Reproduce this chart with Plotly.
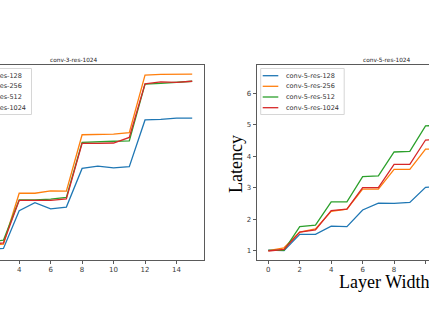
import plotly.graph_objects as go

W, H = 429, 333

layer_width = list(range(16))
series_names = ["128", "256", "512", "1024"]
colors = ["#1f77b4", "#ff7f0e", "#2ca02c", "#d62728"]

# conv-3-res-1024 (left panel)
conv3_res128 = [1.00, 1.02, 1.08, 1.09, 2.37, 2.64, 2.43, 2.49, 3.80, 3.88, 3.82, 3.86, 5.44, 5.46, 5.50, 5.50]
conv3_res256 = [1.00, 1.05, 1.20, 1.24, 2.96, 2.96, 3.04, 3.03, 4.94, 4.94, 4.96, 5.01, 6.96, 6.98, 6.99, 6.99]
conv3_res512 = [1.00, 1.05, 1.30, 1.37, 2.73, 2.73, 2.76, 2.82, 4.68, 4.71, 4.72, 4.73, 6.65, 6.68, 6.72, 6.75]
conv3_res1024 = [1.00, 1.03, 1.22, 1.28, 2.72, 2.72, 2.72, 2.77, 4.65, 4.65, 4.66, 4.85, 6.66, 6.73, 6.71, 6.75]

# conv-5-res-1024 (right panel)
conv5_res128 = [1.03, 1.01, 1.53, 1.53, 1.79, 1.77, 2.30, 2.52, 2.51, 2.54, 3.02, 3.04, 3.50, 3.55, 4.00, 4.05]
conv5_res256 = [1.01, 1.10, 1.60, 1.70, 2.26, 2.33, 2.96, 2.96, 3.59, 3.59, 4.23, 4.25, 4.90, 4.90, 5.55, 5.55]
conv5_res512 = [1.02, 1.02, 1.77, 1.82, 2.56, 2.56, 3.36, 3.38, 4.14, 4.16, 4.97, 4.98, 5.78, 5.80, 6.60, 6.62]
conv5_res1024 = [1.00, 1.05, 1.60, 1.67, 2.28, 2.33, 3.01, 3.01, 3.75, 3.75, 4.52, 4.53, 5.25, 5.26, 6.00, 6.00]

left_series = [conv3_res128, conv3_res256, conv3_res512, conv3_res1024]
right_series = [conv5_res128, conv5_res256, conv5_res512, conv5_res1024]

def px(x):
    return x / W

def py(y):
    return 1 - y / H

fig = go.Figure()
for name, ys, c in zip(series_names, left_series, colors):
    fig.add_trace(go.Scatter(x=layer_width, y=ys, mode="lines", name="conv-3-res-" + name,
                             line=dict(color=c, width=1.3), xaxis="x", yaxis="y", showlegend=False))
for name, ys, c in zip(series_names, right_series, colors):
    fig.add_trace(go.Scatter(x=layer_width, y=ys, mode="lines", name="conv-5-res-" + name,
                             line=dict(color=c, width=1.3), xaxis="x2", yaxis="y2", showlegend=False))

tickfont = dict(family="DejaVu Sans", size=7, color="#3a3a3a")
ydom = [py(260), py(65)]
spine = "#5a5a5a"
axline = dict(showline=True, linecolor=spine, linewidth=1, showgrid=False, zeroline=False)

fig.update_layout(
    width=W, height=H, autosize=False,
    margin=dict(l=0, r=0, t=0, b=0, autoexpand=False),
    paper_bgcolor="white", plot_bgcolor="white",
    xaxis=dict(domain=[0, px(204)], range=[2.78, 15.75], tick0=0, dtick=2, ticks="outside",
               ticklen=3, tickwidth=1, tickcolor=spine, mirror=True, tickfont=tickfont, **axline),
    yaxis=dict(domain=ydom, range=[0.7, 7.3], side="right", showticklabels=False, ticks="",
               **axline),
    xaxis2=dict(domain=[px(256.5), 1], range=[-0.75, 10.22], tick0=0, dtick=2, ticks="outside",
                ticklen=3, tickwidth=1, tickcolor=spine, mirror=True, tickfont=tickfont,
                anchor="y2", **axline),
    yaxis2=dict(domain=ydom, range=[0.714, 6.9], tick0=0, dtick=1, ticks="outside",
                ticklen=3, tickwidth=1, tickcolor=spine, tickfont=tickfont, anchor="x2", **axline),
)

shapes = []
annotations = []

# titles
annotations.append(dict(text="conv-3-res-1024", x=px(74.3), y=py(60), xref="paper", yref="paper",
                        showarrow=False, xanchor="center", yanchor="middle",
                        font=dict(family="DejaVu Sans", size=5.8, color="#222")))
annotations.append(dict(text="conv-5-res-1024", x=px(387), y=py(60), xref="paper", yref="paper",
                        showarrow=False, xanchor="center", yanchor="middle",
                        font=dict(family="DejaVu Sans", size=5.8, color="#222")))

# axis labels
serif = dict(family="Liberation Serif, Times New Roman, serif", size=18, color="black")
annotations.append(dict(text="Layer Width", x=px(383.5), y=py(282), xref="paper", yref="paper",
                        showarrow=False, xanchor="center", yanchor="middle", font=serif))
annotations.append(dict(text="Latency", x=px(235.5), y=py(164.5), xref="paper", yref="paper",
                        showarrow=False, xanchor="center", yanchor="middle", textangle=-90, font=serif))

# legends (matplotlib style)
row_y = [75.7, 86.3, 97.0, 107.7]
for left_edge, prefix in [(-52.0, "conv-3-res-"), (260.7, "conv-5-res-")]:
    shapes.append(dict(type="rect", xref="paper", yref="paper", x0=px(left_edge), x1=px(left_edge + 83.5),
                       y0=py(68.5), y1=py(114.5), line=dict(color="#d6d6d6", width=1),
                       fillcolor="rgba(255,255,255,0.85)", layer="above"))
    for name, c, ry in zip(series_names, colors, row_y):
        shapes.append(dict(type="line", xref="paper", yref="paper", x0=px(left_edge + 2), x1=px(left_edge + 17.6),
                           y0=py(ry), y1=py(ry), line=dict(color=c, width=1.3), layer="above"))
        annotations.append(dict(text=prefix + name, x=px(left_edge + 23), y=py(ry), xref="paper", yref="paper",
                                showarrow=False, xanchor="left", yanchor="middle",
                                font=dict(family="DejaVu Sans", size=6.5, color="#333")))

fig.update_layout(shapes=shapes, annotations=annotations)
fig.write_html("out.html", config={"displayModeBar": False})

# remove the browser's default body margin so the figure sits at the window origin
with open("out.html", "r", encoding="utf-8") as f:
    html = f.read()
html = html.replace("<body>", '<body style="margin:0;padding:0;overflow:hidden">', 1)
with open("out.html", "w", encoding="utf-8") as f:
    f.write(html)
